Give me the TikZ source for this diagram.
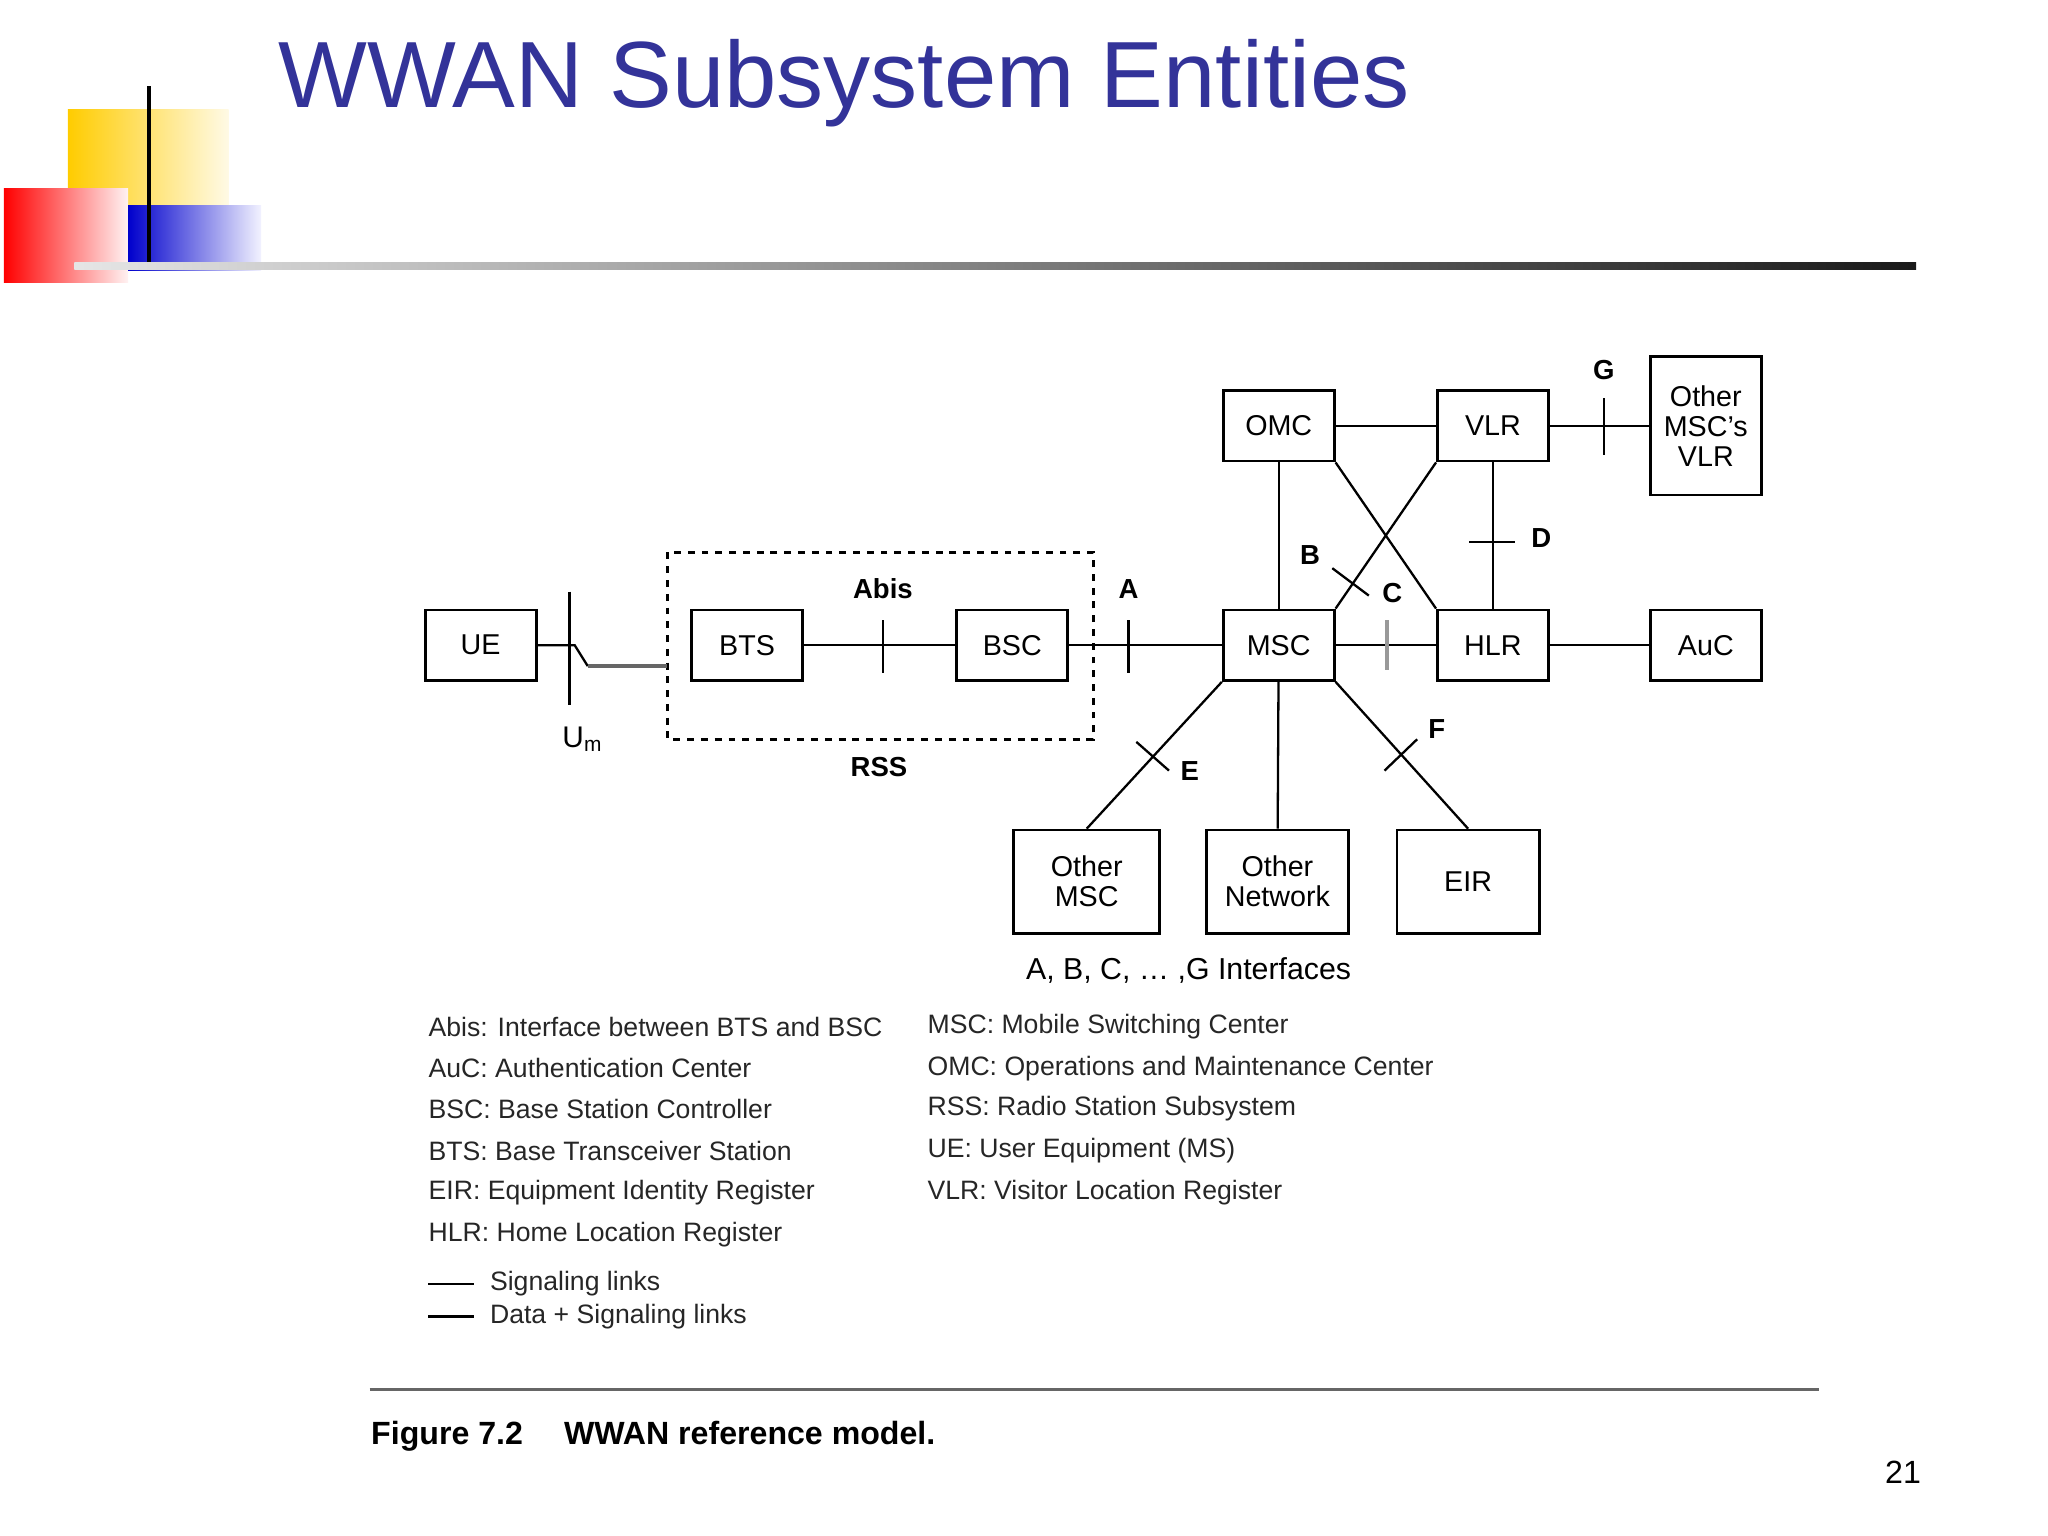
\documentclass[tikz,border=0pt]{standalone}
\usepackage{fontspec}
\setmainfont{Liberation Sans}
\begin{document}
\begin{tikzpicture}[x=0.02cm,y=-0.02cm,
  box/.style={draw,line width=1.2pt,minimum width=1.7cm,minimum height=1.08cm,inner sep=1pt,font=\fontsize{12.5}{13}\selectfont,align=center},
  ln/.style={line width=1pt},
  lab/.style={font=\fontsize{12}{13}\selectfont\bfseries},
  leg/.style={anchor=west,font=\fontsize{11.6}{12}\selectfont,text=black!85}]
\useasboundingbox (0,0) rectangle (1568,1176);
% decorations
\definecolor{gold}{RGB}{255,204,0}
\shade[left color=gold,right color=gold!10] (52,84) rectangle (175,157);
\shade[left color=red,right color=red!5] (3,144) rectangle (98,216);
\shade[left color=blue!80!black,right color=blue!5] (98,157) rectangle (200,207);
\draw[line width=2pt] (114,66) -- (114,203);
\shade[left color=black!10,right color=black!90] (57,201) rectangle (1467,206);
\node[anchor=west,text={rgb,255:red,51;green,51;blue,153},font=\fontsize{41}{46}\selectfont] (title) at (207,64) {WWAN Subsystem Entities};
% boxes
\node[box] (ue) at (368,494) {UE};
\node[box] (bts) at (572,494) {BTS};
\node[box] (bsc) at (775,494) {BSC};
\node[box] (msc) at (979,494) {MSC};
\node[box] (hlr) at (1143,494) {HLR};
\node[box] (auc) at (1306,494) {AuC};
\node[box] (omc) at (979,326) {OMC};
\node[box] (vlr) at (1143,326) {VLR};
\node[box,minimum height=2.12cm] (ovlr) at (1306,326) {Other\\MSC's\\VLR};
\node[box,minimum width=2.24cm,minimum height=1.58cm] (omsc) at (832,675) {Other\\MSC};
\node[box,minimum width=2.18cm,minimum height=1.58cm] (onet) at (978,675) {Other\\Network};
\node[box,minimum width=2.18cm,minimum height=1.58cm] (eir) at (1124,675) {EIR};
\draw[dashed,line width=1.2pt] (511,423) rectangle (837,566);
% connectors
\coordinate (z1) at (440,494); \coordinate (z2) at (450,510); \coordinate (rssw) at (511,510);
\draw[ln] (ue.east) -- (z1) -- (z2);
\draw[line width=2pt,black!60] (z2) -- (rssw);
\draw[ln] (436,453) -- (436,540);
\node[font=\fontsize{13}{14}\selectfont] (um) at (446,566) {U$_{\mathrm{m}}$};
\draw[ln] (bts) -- (bsc); \draw[ln] (676,475) -- (676,515);
\node[lab] (abis) at (676,451) {Abis};
\draw[ln] (bsc) -- (msc); \draw[ln] (864,475) -- (864,515);
\node[lab] (la) at (864,451) {A};
\node[lab] (rss) at (673,587) {RSS};
\draw[ln] (msc) -- (hlr); \draw[line width=1.5pt,black!40] (1062,475) -- (1062,513);
\draw[ln] (hlr) -- (auc);
\draw[ln] (omc) -- (vlr);
\draw[ln] (omc) -- (msc);
\node[lab] (lb) at (1003,425) {B};
\draw[ln] (vlr) -- (hlr); \draw[ln] (1125,415) -- (1160,415);
\node[lab] (ld) at (1180,412) {D};
\draw[ln] (vlr) -- (ovlr); \draw[ln] (1228,305) -- (1228,348);
\node[lab] (lg) at (1228,283) {G};
\draw[ln] (omc.south east) -- (hlr.north west);
\draw[ln] (vlr.south west) -- (msc.north east);
\draw[ln] (1020,435) -- (1048,456);
\node[lab] (lc) at (1066,454) {C};
\draw[ln] (msc.south west) -- (omsc.north);
\draw[ln] (870,568) -- (895,590);
\node[lab] (le) at (911,590) {E};
\draw[ln] (msc) -- (onet);
\draw[ln] (msc.south east) -- (eir.north);
\draw[ln] (1060,590) -- (1085,566);
\node[lab] (lf) at (1100,558) {F};
\node[font=\fontsize{13.2}{14}\selectfont] (ifs) at (910,743) {A, B, C, \dots\ ,G Interfaces};
% legend
\node[leg] (l1) at (322,786) {Abis: Interface between BTS and BSC};
\node[leg] (l2) at (322,818) {AuC: Authentication Center};
\node[leg] (l3) at (322,849) {BSC: Base Station Controller};
\node[leg] (l4) at (322,881) {BTS: Base Transceiver Station};
\node[leg] (l5) at (322,913) {EIR: Equipment Identity Register};
\node[leg] (l6) at (322,945) {HLR: Home Location Register};
\node[leg] (r1) at (704,786) {MSC: Mobile Switching Center};
\node[leg] (r2) at (704,818) {OMC: Operations and Maintenance Center};
\node[leg] (r3) at (704,849) {RSS: Radio Station Subsystem};
\node[leg] (r4) at (704,881) {UE: User Equipment (MS)};
\node[leg] (r5) at (704,913) {VLR: Visitor Location Register};
\coordinate (s1) at (328,983); \coordinate (s2) at (363,983);
\coordinate (d1) at (328,1008); \coordinate (d2) at (363,1008);
\draw[ln] (s1) -- (s2); \draw[line width=1.6pt] (d1) -- (d2);
\node[leg] (ls) at (369,983) {Signaling links};
\node[leg] (ld2) at (369,1008) {Data + Signaling links};
\draw[line width=1.5pt,black!60] (283,1064) -- (1393,1064);
\node[anchor=west,font=\fontsize{14}{15}\selectfont\bfseries] (fig) at (278,1100) {Figure 7.2\quad\ WWAN reference model.};
\node[font=\fontsize{14}{14}\selectfont\rmfamily] (pg) at (1457,1127) {21};
\end{tikzpicture}
\end{document}
